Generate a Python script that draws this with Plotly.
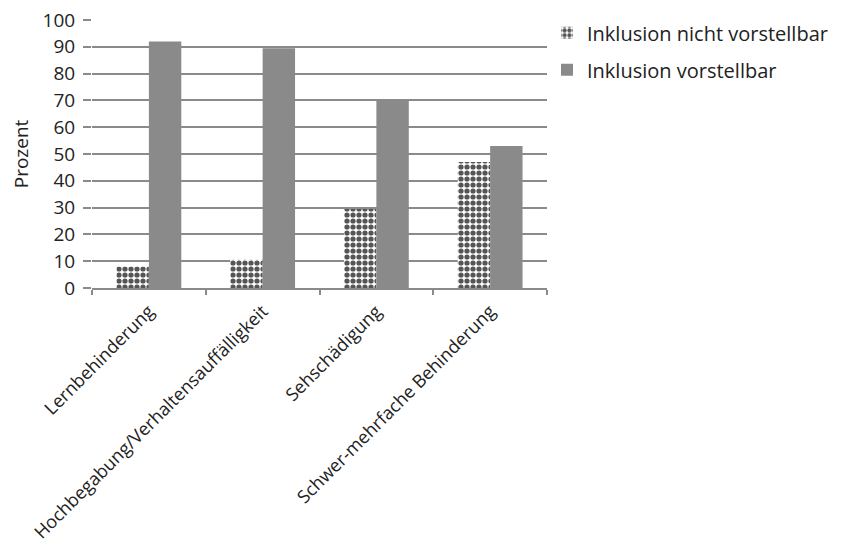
import plotly.graph_objects as go

categories = ["Lernbehinderung", "Hochbegabung/Verhaltensauffälligkeit", "Sehschädigung", "Schwer-mehrfache Behinderung"]
nicht_vorstellbar = [8, 10.5, 29.5, 47]
vorstellbar = [92, 89.5, 70.5, 53]
series_names = ["Inklusion nicht vorstellbar", "Inklusion vorstellbar"]
y_ticks = [0, 10, 20, 30, 40, 50, 60, 70, 80, 90, 100]

font_family = "Open Sans, Liberation Sans, sans-serif"
text_color = "#222222"

fig = go.Figure()
fig.add_trace(go.Bar(
    x=categories, y=nicht_vorstellbar, name=series_names[0], legendgroup="a",
    marker=dict(color="white", line=dict(width=0),
                pattern=dict(shape=".", fgcolor="#555555", bgcolor="white", fgopacity=1,
                             size=6, solidity=0.6, fillmode="replace")),
))
fig.add_trace(go.Bar(
    x=categories, y=vorstellbar, name=series_names[1], legendgroup="b",
    marker=dict(color="#8a8a8a", line=dict(width=0)),
))

fig.update_layout(
    width=855, height=558,
    margin=dict(l=92, r=308, t=20, b=270),
    paper_bgcolor="white", plot_bgcolor="white",
    barmode="group", bargap=0.43, bargroupgap=0,
    font=dict(family=font_family, color=text_color, size=16),
    showlegend=True,
    legend=dict(x=1.0, y=1.025, xanchor="left", yanchor="top",
                font=dict(size=20, color=text_color), tracegroupgap=8,
                itemsizing="constant", bgcolor="rgba(0,0,0,0)"),
)
fig.update_xaxes(
    type="category", tickangle=-45, tickson="boundaries",
    ticks="outside", ticklen=5, tickcolor="#8a8a8a", tickwidth=1.5,
    showline=True, linecolor="#8a8a8a", linewidth=1.5,
    showgrid=False, tickfont=dict(size=18, color=text_color),
    ticklabelstandoff=4, automargin=False,
)
fig.update_yaxes(
    range=[0, 100], tickvals=y_ticks, ticktext=[str(v) for v in y_ticks],
    showgrid=True, gridcolor="#8a8a8a", gridwidth=1.8,
    ticks="outside", ticklen=8, tickcolor="#8a8a8a", tickwidth=1.8,
    showline=False, zeroline=False,
    tickfont=dict(size=19, color=text_color),
    ticklabelstandoff=4, automargin=False,
    title=dict(text="Prozent", font=dict(size=19, color=text_color), standoff=8),
)

fig.write_html("out.html")
